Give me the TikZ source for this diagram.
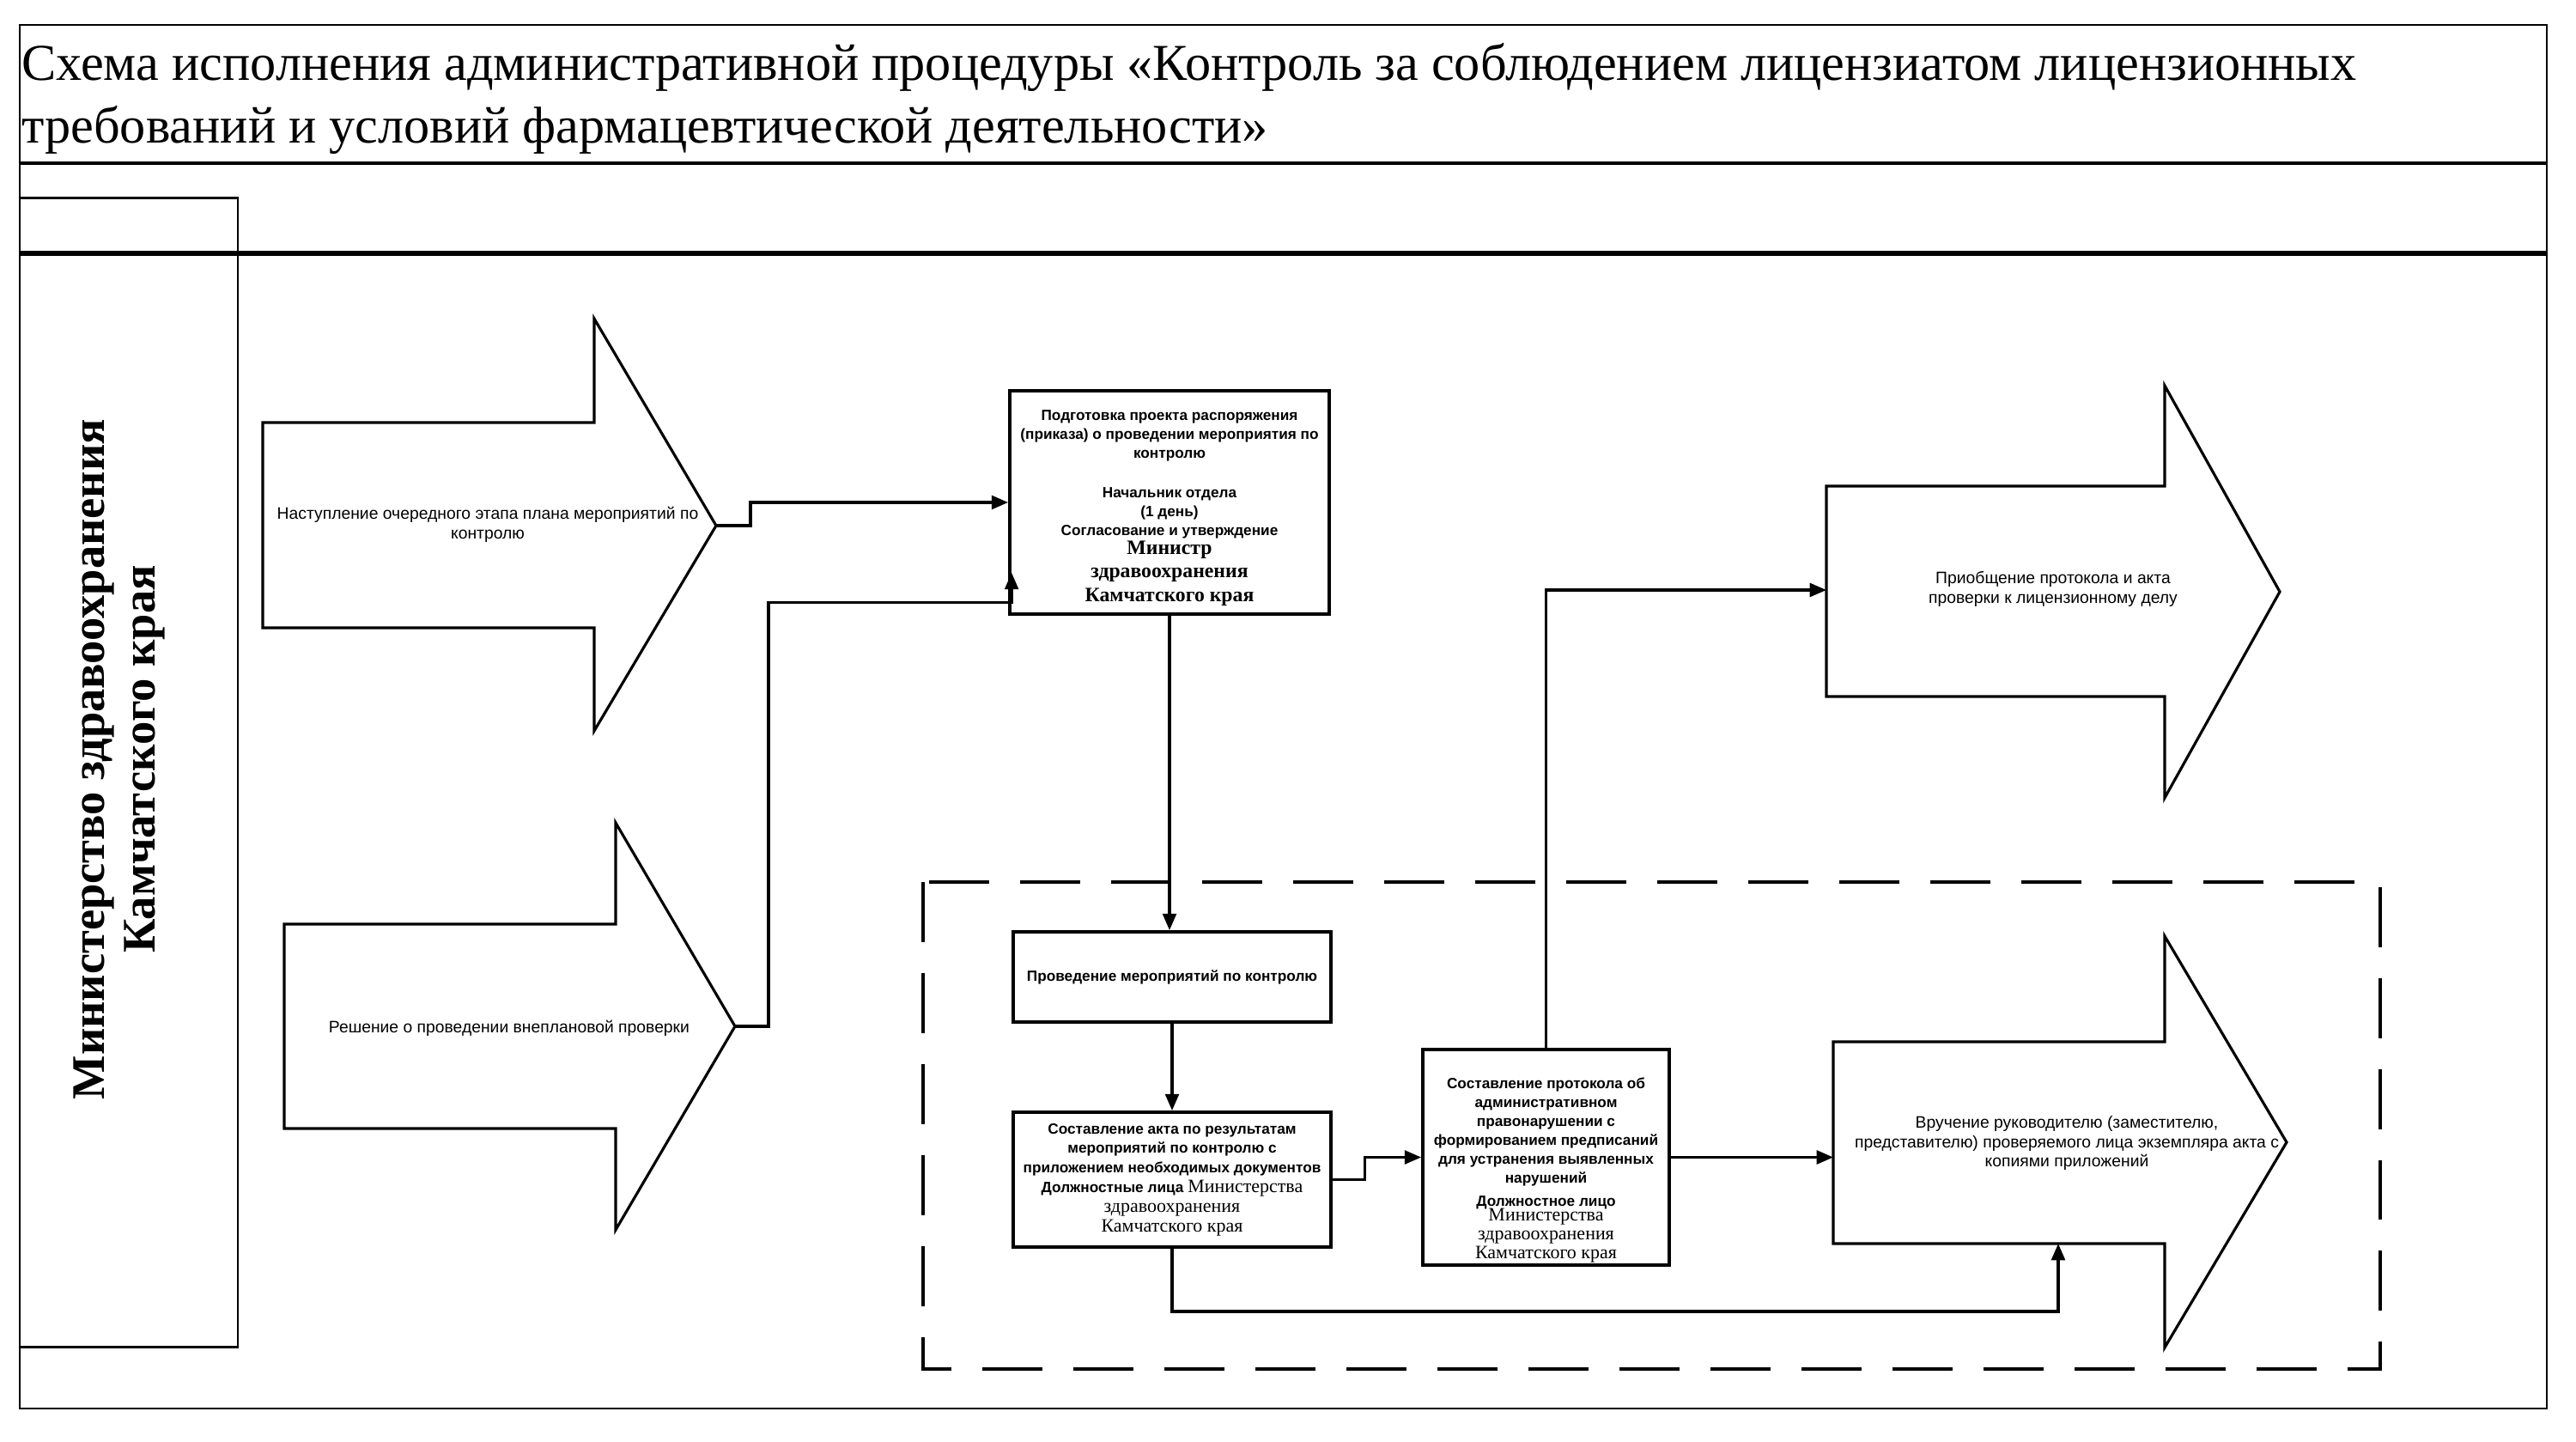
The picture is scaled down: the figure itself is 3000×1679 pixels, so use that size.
\documentclass[tikz,border=0pt]{standalone}
\usepackage{fontspec}
\setmainfont{Liberation Serif}
\setsansfont{Liberation Sans}
\usetikzlibrary{arrows.meta,calc}

\begin{document}
\begin{tikzpicture}[x=0.02cm,y=-0.02cm,
  frameline/.style={line width=1.6pt},
  boxnode/.style={draw,line width=2.2pt,inner sep=0pt,align=center,font=\sffamily\bfseries\fontsize{9.8}{12.5}\selectfont},
  blockarrow/.style={draw,line width=1.8pt,line join=miter},
  arrowtext/.style={align=center,font=\sffamily\fontsize{11}{13}\selectfont,inner sep=0pt},
  conn/.style={line width=1.8pt,-{Triangle[length=11pt,width=9pt]}},
  dashedgroup/.style={line width=2.2pt,dash pattern=on 1.4cm off 0.72cm},
]
\useasboundingbox (0,0) rectangle (3000,1679);

% frame and header
\draw[frameline] (23,29) rectangle (2966,1640);
\draw[line width=2.8pt] (23,190) -- (2966,190);
\draw[line width=3.4pt] (23,295) -- (2966,295);
\node[anchor=west,align=left,inner sep=0pt,font=\fontsize{34.3}{41.5}\selectfont] (title) at (25,115)
  {Схема исполнения административной процедуры «Контроль за соблюдением лицензиатом лицензионных\\требований и условий фармацевтической деятельности»};

% left column
\node[draw,line width=1.6pt,minimum width=5.08cm,minimum height=26.78cm,inner sep=0pt] (col) at (150,899.5) {};
\node[rotate=90,align=center,inner sep=0pt,font=\bfseries\fontsize{31}{33.6}\selectfont] (coltext) at (139,884)
  {Министерство здравоохранения\\Камчатского края};

% dashed group
\draw[dashedgroup] (1075,1027) rectangle (2772,1594);

% block arrow A1
\draw[blockarrow] (306,492) -- (692,492) -- (692,371) -- (834,612) -- (692,851) -- (692,731) -- (306,731) -- cycle;
\coordinate (a1tip) at (834,612);
\node[arrowtext] (a1) at (568,611) {Наступление очередного этапа плана мероприятий по\\контролю};

% block arrow A2
\draw[blockarrow] (331,1076) -- (717,1076) -- (717,958) -- (856,1195) -- (717,1432) -- (717,1314) -- (331,1314) -- cycle;
\coordinate (a2tip) at (856,1195);
\node[arrowtext] (a2) at (593,1197) {Решение о проведении внеплановой проверки};

% block arrow E
\draw[blockarrow] (2127,566) -- (2521,566) -- (2521,449) -- (2655,689) -- (2521,929) -- (2521,811) -- (2127,811) -- cycle;
\coordinate (ein) at (2127,687);
\node[arrowtext] (etext) at (2391,686) {Приобщение протокола и акта\\проверки к лицензионному делу};

% block arrow F
\draw[blockarrow] (2135,1213) -- (2521,1213) -- (2521,1090) -- (2663,1330) -- (2521,1569) -- (2521,1448) -- (2135,1448) -- cycle;
\coordinate (fin) at (2135,1330);
\coordinate (fbot) at (2397,1448);
\node[arrowtext] (ftext) at (2407,1331) {Вручение руководителю (заместителю,\\представителю) проверяемого лица экземпляра акта с\\копиями приложений};

% boxes
\node[boxnode,minimum width=7.44cm,minimum height=5.2cm] (b1) at (1362,585)
  {\rule{0pt}{14pt}Подготовка проекта распоряжения\\(приказа) о проведении мероприятия по\\контролю\\[14pt]
   Начальник отдела\\(1 день)\\Согласование и утверждение\\
   {\rmfamily\bfseries\fontsize{13.5}{14}\selectfont Министр}\\[3pt]
   {\rmfamily\bfseries\fontsize{13.5}{14}\selectfont здравоохранения}\\[3pt]
   {\rmfamily\bfseries\fontsize{13.5}{14}\selectfont Камчатского края}};

\node[boxnode,minimum width=7.4cm,minimum height=2.1cm] (c1) at (1365,1137.5)
  {Проведение мероприятий по контролю};

\node[boxnode,minimum width=7.4cm,minimum height=3.14cm,font=\sffamily\bfseries\fontsize{9.8}{13}\selectfont] (c2) at (1365,1373.5)
  {Составление акта по результатам\\мероприятий по контролю с\\приложением необходимых документов\\
   Должностные лица {\rmfamily\mdseries\fontsize{12.5}{13}\selectfont Министерства}\\
   {\rmfamily\mdseries\fontsize{12.5}{13}\selectfont здравоохранения}\\
   {\rmfamily\mdseries\fontsize{12.5}{13}\selectfont Камчатского края}};

\node[boxnode,minimum width=5.74cm,minimum height=5.02cm] (d) at (1800.5,1347.5)
  {\rule{0pt}{24pt}Составление протокола об\\административном\\правонарушении с\\формированием предписаний\\для устранения выявленных\\нарушений\\[3pt]
   Должностное лицо\\[-3pt]
   {\rmfamily\mdseries\fontsize{12.5}{13}\selectfont Министерства}\\
   {\rmfamily\mdseries\fontsize{12.5}{13}\selectfont здравоохранения}\\
   {\rmfamily\mdseries\fontsize{12.5}{13}\selectfont Камчатского края}};

% connectors
\coordinate (b1in) at ($(b1.south west)+(4,-50)$);
\draw[conn] (a1tip) -- ++(40,0) |- (b1.west);
\draw[conn] (a2tip) -- ++(39,0) |- ($(b1in)+(0,35)$) -- (b1in);
\draw[conn] (b1.south) -- (b1.south |- c1.north);
\draw[conn] (c1.south) -- (c2.north);
\draw[conn] (c2.east) -- ++(38,0) |- (d.west);
\draw[conn] (c2.south) -- ++(0,73) -| (fbot);
\draw[conn] (d.north) |- (ein);
\draw[conn] (d.east) -- (d.east -| fin);
\end{tikzpicture}
\end{document}
